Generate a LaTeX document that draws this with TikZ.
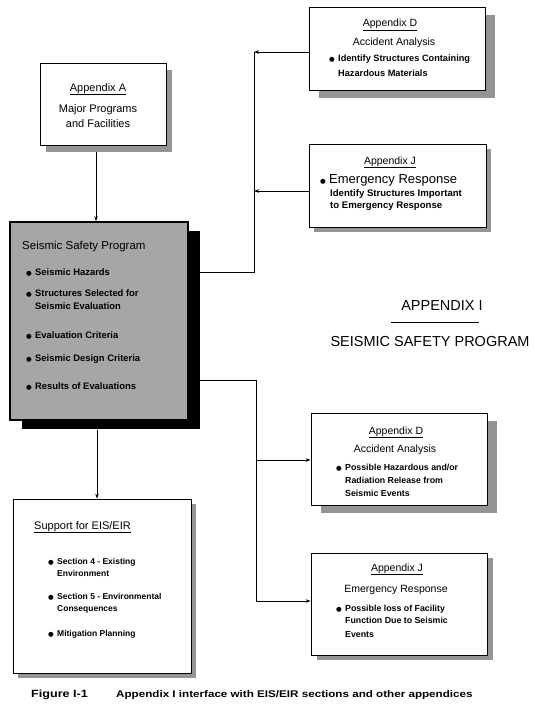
\documentclass[tikz,border=0pt]{standalone}
\usepackage{fontspec}
\setmainfont{Liberation Sans}
\newfontfamily\symf{DejaVu Sans}
\newfontfamily\capfont[FakeStretch=1.2]{Liberation Sans}
\usetikzlibrary{arrows.meta,shadows,calc}
\newcommand\bul{\makebox[9pt][l]{\symf\fontsize{6.5}{6.5}\selectfont ●}}
\begin{document}
\begin{tikzpicture}[x=1pt,y=-1pt,
  apbox/.style n args={2}{draw=black, line width=0.8pt, fill=white, inner sep=0pt,
     drop shadow={shadow xshift=#1, shadow yshift=#2, fill=black!42, opacity=1}},
  seisbox/.style={draw=black, line width=1.6pt, fill=black!35, inner sep=0pt,
     drop shadow={shadow xshift=12pt, shadow yshift=-9pt, fill=black, opacity=1}},
  hd/.style={font=\fontsize{10.5}{12}\selectfont, anchor=base, inner sep=0pt},
  hdl/.style={font=\fontsize{10.5}{12}\selectfont, anchor=base west, inner sep=0pt},
  it/.style={font=\bfseries\fontsize{8.8}{10}\selectfont, anchor=base west, inner sep=0pt},
  itd/.style={font=\bfseries\fontsize{9.2}{10}\selectfont, anchor=base west, inner sep=0pt},
  itj/.style={font=\bfseries\fontsize{9.6}{10}\selectfont, anchor=base west, inner sep=0pt},
  its/.style={font=\bfseries\fontsize{9.4}{10}\selectfont, anchor=base west, inner sep=0pt},
  ite/.style={font=\bfseries\fontsize{8.5}{10}\selectfont, anchor=base west, inner sep=0pt},
  arr/.style={-{Stealth[length=5pt,width=3.5pt]}, line width=0.7pt},
  ln/.style={line width=0.7pt}]
\useasboundingbox (0,0) rectangle (535,709);

% boxes
\node[apbox={6pt}{-7pt}, minimum width=126pt, minimum height=82pt] (A) at (103,104) {};
\node[apbox={10pt}{-8pt}, minimum width=176pt, minimum height=83pt] (D1) at (397,48.5) {};
\node[apbox={5pt}{-5pt}, minimum width=177pt, minimum height=83pt] (J1) at (397.5,185.5) {};
\node[seisbox, minimum width=178pt, minimum height=198pt] (S) at (99,321) {};
\node[apbox={5pt}{-5pt}, minimum width=178pt, minimum height=174pt] (E) at (102,586) {};
\node[apbox={10pt}{-8pt}, minimum width=176pt, minimum height=92pt] (D2) at (399,459) {};
\node[apbox={6pt}{-5pt}, minimum width=176pt, minimum height=102pt] (J2) at (399,604) {};

% Appendix A
\node[hd, font=\fontsize{11}{12}\selectfont] (a1) at (98,91) {\underline{Appendix A}};
\node[hd, font=\fontsize{11}{12}\selectfont] (a2) at (98,112) {Major Programs};
\node[hd, font=\fontsize{11}{12}\selectfont] (a3) at (98,127) {and Facilities};

% Appendix D (top)
\node[hd] (d1) at (390,27) {\underline{Appendix D}};
\node[hd] (d2) at (394,46) {Accident Analysis};
\node[itd] (d3) at (329,62) {\bul Identify Structures Containing};
\node[itd] (d4) at (338,77) {Hazardous Materials};

% Appendix J (top)
\node[hd] (j1) at (390,164) {\underline{Appendix J}};
\node[hdl, font=\fontsize{13}{14}\selectfont] (j2) at (320,183) {\bul Emergency Response};
\node[itj] (j3) at (330,196) {Identify Structures Important};
\node[itj] (j4) at (330,208) {to Emergency Response};

% Seismic Safety Program
\node[hdl, font=\fontsize{11.5}{13}\selectfont] (s0) at (22,249) {Seismic Safety Program};
\node[its] (s1) at (26,275) {\bul Seismic Hazards};
\node[its] (s2) at (26,296) {\bul Structures Selected for};
\node[its] (s3) at (35,309) {Seismic Evaluation};
\node[its] (s4) at (26,338) {\bul Evaluation Criteria};
\node[its] (s5) at (26,361) {\bul Seismic Design Criteria};
\node[its] (s6) at (26,389) {\bul Results of Evaluations};

% Support for EIS/EIR
\node[hdl, font=\fontsize{11}{13}\selectfont] (e0) at (34,529) {\underline{Support for EIS/EIR}};
\node[ite] (e1) at (48,564) {\bul Section 4 - Existing};
\node[ite] (e2) at (57,576) {Environment};
\node[ite] (e3) at (48,599) {\bul Section 5 - Environmental};
\node[ite] (e4) at (57,611) {Consequences};
\node[ite] (e5) at (48,636) {\bul Mitigation Planning};

% Appendix D (lower)
\node[hd] (k1) at (396,434) {\underline{Appendix D}};
\node[hd] (k2) at (395,452) {Accident Analysis};
\node[it] (k3) at (336,470) {\bul Possible Hazardous and/or};
\node[it] (k4) at (345,483) {Radiation Release from};
\node[it] (k5) at (345,496) {Seismic Events};

% Appendix J (lower)
\node[hd] (m1) at (397,571) {\underline{Appendix J}};
\node[hd] (m2) at (396,592) {Emergency Response};
\node[it] (m3) at (336,611) {\bul Possible loss of Facility};
\node[it] (m4) at (345,623) {Function Due to Seismic};
\node[it] (m5) at (345,637) {Events};

% Title
\node[hd, font=\fontsize{14.5}{16}\selectfont] (t1) at (442,310) {APPENDIX I};
\node[hd, font=\fontsize{14.5}{16}\selectfont] (t2) at (430,346) {SEISMIC SAFETY PROGRAM};
\draw[line width=0.6pt] ($(t1.base west)+(-10,12)$) -- ($(t1.base east)+(-4,12)$);

% Caption
\node[it, font=\capfont\bfseries\fontsize{10.5}{11}\selectfont] (c1) at (31,697) {Figure I-1};
\node[it, font=\capfont\bfseries\fontsize{9.7}{11}\selectfont] (c2) at (116,697) {Appendix I interface with EIS/EIR sections and other appendices};

% connectors
\coordinate (a0) at ($(A.south)+(-7,7)$);
\coordinate (b0) at ($(S.south)+(-2,9)$);
\draw[arr] (a0) -- (a0 |- S.north);
\draw[arr] (b0) -- (b0 |- E.north);

\coordinate (u1) at (254,52);
\coordinate (u2) at (254,191);
\coordinate (u3) at (254,272);
\draw[arr] (D1.west |- u1) -- (u1);
\draw[arr] (J1.west |- u2) -- (u2);
\draw[ln] (u1) -- (u3) -- (S.east |- u3);

\coordinate (l0) at (256,380);
\coordinate (l1) at (256,460);
\coordinate (l2) at (256,601);
\draw[ln] (S.east |- l0) -- (l0) -- (l2);
\draw[arr] (l1) -- (D2.west |- l1);
\draw[arr] (l2) -- (J2.west |- l2);
\end{tikzpicture}
\end{document}
